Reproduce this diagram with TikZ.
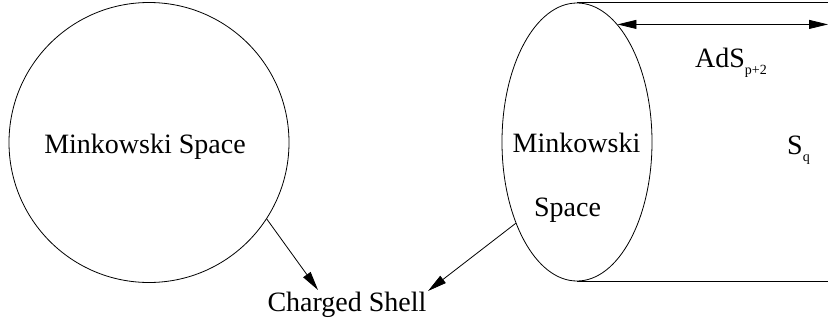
\documentclass[tikz,border=0pt]{standalone}
\usepackage{fontspec}
\setmainfont{Liberation Serif}
\usetikzlibrary{shapes.geometric,arrows.meta}
\tikzset{
  shape line/.style={draw, line width=0.8pt, inner sep=0pt},
  conn/.style={line width=0.8pt, -{Triangle[length=19pt,width=9pt]}},
  dconn/.style={line width=0.8pt, {Triangle[length=19pt,width=9pt]}-{Triangle[length=19pt,width=9pt]}},
  lbl/.style={inner sep=0pt, font=\fontsize{28}{32}\selectfont},
}
\newcommand{\subtxt}[1]{\raisebox{-7pt}{\fontsize{14}{14}\selectfont #1}}
\begin{document}
\begin{tikzpicture}[x=1pt,y=-1pt]
\useasboundingbox (0,0) rectangle (828,322);
\coordinate (re) at (828,0);
% left circle
\node[shape line, circle, minimum size=280pt] (circ) at (149,142.5) {};
\node[lbl, anchor=base] (mink1) at (145,153) {Minkowski Space};
% ellipse
\node[shape line, ellipse, minimum width=150pt, minimum height=278pt] (ell) at (577,142) {};
\node[lbl, anchor=base] (mink2) at (576.5,152) {Minkowski};
\node[lbl, anchor=base] (space2) at (567.5,216) {Space};
% cylinder lines
\draw[line width=0.8pt] (ell.north) -- (ell.north -| re);
\draw[line width=0.8pt] (ell.south) -- (ell.south -| re);
\draw[dconn] (ell.71.3) -- (ell.71.3 -| re);
\node[lbl, anchor=base west] (ads) at (695,67) {AdS\subtxt{p+2}};
\node[lbl, anchor=base west] (sq) at (787,154) {S\subtxt{q}};
% charged shell
\node[lbl, anchor=base] (cs) at (347,311) {Charged Shell};
\coordinate (t1) at (318,290);
\coordinate (t2) at (428,291);
\draw[conn] (circ.-33) -- (t1);
\draw[conn] (ell.-127) -- (t2);
\end{tikzpicture}
\end{document}
